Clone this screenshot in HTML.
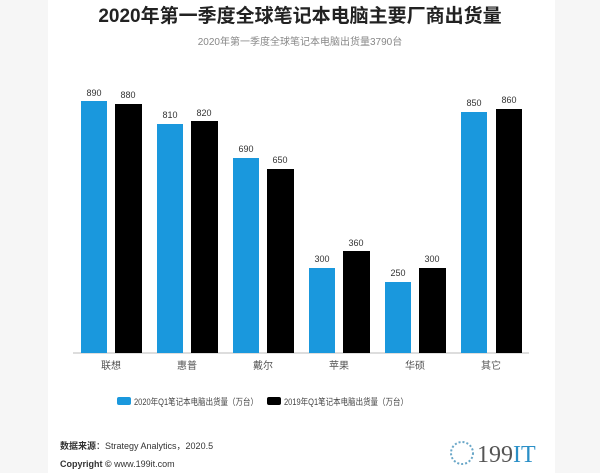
<!DOCTYPE html>
<html><head><meta charset="utf-8"><style>
body{margin:0;background:#f6f6f6;}
</style></head><body>
<svg width="600" height="473" xmlns="http://www.w3.org/2000/svg" style="display:block;font-family:'Liberation Sans','Noto Sans CJK SC',sans-serif">
<rect x="0" y="0" width="600" height="473" fill="#f6f6f6"/>
<rect x="48" y="0" width="507" height="473" fill="#ffffff"/>
<text x="300" y="22" text-anchor="middle" font-size="19" font-weight="bold" fill="#222">2020年第一季度全球笔记本电脑主要厂商出货量</text>
<text x="300" y="45" text-anchor="middle" font-size="10" fill="#888">2020年第一季度全球笔记本电脑出货量3790台</text>
<line x1="73" y1="353" x2="529" y2="353" stroke="#bbb" stroke-width="1"/>
<g font-size="9" fill="#333" text-anchor="middle">
<rect x="81" y="101" width="26" height="252" fill="#1a98dd"/><text x="94" y="96">890</text>
<rect x="115" y="104" width="27" height="249" fill="#000"/><text x="128" y="98">880</text>
<rect x="157" y="124" width="26" height="229" fill="#1a98dd"/><text x="170" y="118">810</text>
<rect x="191" y="121" width="27" height="232" fill="#000"/><text x="204" y="116">820</text>
<rect x="233" y="158" width="26" height="195" fill="#1a98dd"/><text x="246" y="152">690</text>
<rect x="267" y="169" width="27" height="184" fill="#000"/><text x="280" y="163">650</text>
<rect x="309" y="268" width="26" height="85" fill="#1a98dd"/><text x="322" y="262">300</text>
<rect x="343" y="251" width="27" height="102" fill="#000"/><text x="356" y="246">360</text>
<rect x="385" y="282" width="26" height="71" fill="#1a98dd"/><text x="398" y="276">250</text>
<rect x="419" y="268" width="27" height="85" fill="#000"/><text x="432" y="262">300</text>
<rect x="461" y="112" width="26" height="241" fill="#1a98dd"/><text x="474" y="106">850</text>
<rect x="496" y="109" width="26" height="244" fill="#000"/><text x="509" y="103">860</text>
</g>
<g font-size="10" fill="#555" text-anchor="middle">
<text x="111" y="369">联想</text><text x="187" y="369">惠普</text><text x="263" y="369">戴尔</text>
<text x="339" y="369">苹果</text><text x="415" y="369">华硕</text><text x="491" y="369">其它</text>
</g>
<rect x="117" y="397" width="14" height="8" rx="2" fill="#1a98dd"/>
<text x="134" y="405" font-size="9" fill="#444" textLength="124" lengthAdjust="spacingAndGlyphs">2020年Q1笔记本电脑出货量（万台）</text>
<rect x="267" y="397" width="14" height="8" rx="2" fill="#000"/>
<text x="284" y="405" font-size="9" fill="#444" textLength="124" lengthAdjust="spacingAndGlyphs">2019年Q1笔记本电脑出货量（万台）</text>
<text x="60" y="449" font-size="9" fill="#333"><tspan font-weight="bold">数据来源</tspan>：Strategy Analytics，2020.5</text>
<text x="60" y="467" font-size="9" fill="#333"><tspan font-weight="bold">Copyright ©</tspan>  www.199it.com</text>
<circle cx="462" cy="453" r="11" fill="none" stroke="#6aa7c8" stroke-width="2" stroke-dasharray="2 2"/>
<text x="477" y="462" font-size="24" font-family="'Liberation Serif',serif" fill="#555">199<tspan fill="#2a8fc7">IT</tspan></text>
</svg>
</body></html>
